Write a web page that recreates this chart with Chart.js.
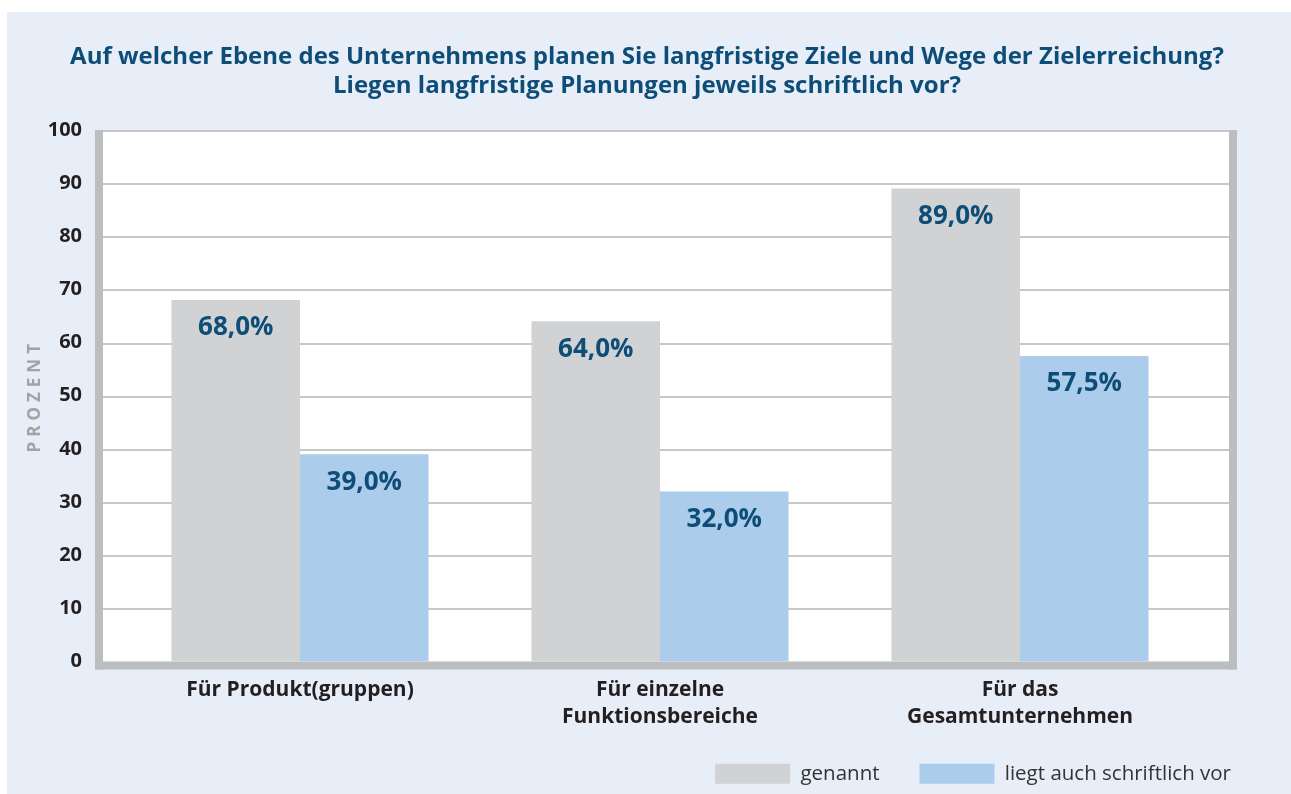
<!DOCTYPE html>
<html>
<head>
<meta charset="utf-8">
<script src="https://cdn.jsdelivr.net/npm/chart.js@4.4.1/dist/chart.umd.min.js"></script>
<style>
    html, body { margin: 0; padding: 0; background: #ffffff; }
    #wrap { position: absolute; left: 0; top: 0; width: 1291px; height: 794px; }
</style>
</head>
<body>
<div id="wrap"><canvas id="chart" width="1291" height="794"></canvas></div>
<script>
// Chart data
const titleLines = [
    'Auf welcher Ebene des Unternehmens planen Sie langfristige Ziele und Wege der Zielerreichung?',
    'Liegen langfristige Planungen jeweils schriftlich vor?'
];
const categories = [
    ['Für Produkt(gruppen)'],
    ['Für einzelne', 'Funktionsbereiche'],
    ['Für das', 'Gesamtunternehmen']
];
const seriesNames = ['genannt', 'liegt auch schriftlich vor'];
const genannt = [68.0, 64.0, 89.0];
const schriftlich = [39.0, 32.0, 57.5];
const yTickValues = [0, 10, 20, 30, 40, 50, 60, 70, 80, 90, 100];
const yAxisTitle = 'PROZENT';

const FONT = "'Open Sans', 'Noto Sans', sans-serif";
const DARK_BLUE = '#0d4d77';
const TEXT = '#231f20';
const FRAME = '#bcbdbf';
const GRID = '#c6c7c9';

// Panel, white plot area, grid lines and the grey frame
const backdrop = {
    id: 'backdrop',
    beforeDraw(chart) {
        const ctx = chart.ctx;
        const ca = chart.chartArea;
        const y = chart.scales.y;
        const left = ca.left - 17;
        const right = ca.right + 29;
        ctx.save();
        ctx.fillStyle = '#ffffff';
        ctx.fillRect(0, 0, chart.width, chart.height);
        ctx.fillStyle = '#e7eef8';
        ctx.fillRect(7, 12, chart.width - 7, chart.height - 12);

        ctx.fillStyle = '#ffffff';
        ctx.fillRect(left, ca.top, right - left, ca.bottom - ca.top);

        // horizontal grid lines
        ctx.strokeStyle = GRID;
        ctx.lineWidth = 2;
        yTickValues.forEach(v => {
            if (v === 0) return;
            const py = Math.round(y.getPixelForValue(v)) + 1;
            ctx.beginPath();
            ctx.moveTo(left, py);
            ctx.lineTo(right, py);
            ctx.stroke();
        });

        // frame: thick left, bottom, right
        ctx.fillStyle = FRAME;
        ctx.fillRect(left - 8, ca.top, 8, ca.bottom - ca.top + 8);
        ctx.fillRect(left - 8, ca.bottom, right - left + 16, 8);
        ctx.fillRect(right, ca.top, 8, ca.bottom - ca.top + 8);
        ctx.restore();

        // letter spaced axis title
        const sy = chart.scales.y;
        if (!sy._spaced) {
            const orig = sy.drawTitle;
            sy.drawTitle = function() {
                this.ctx.save();
                this.ctx.letterSpacing = '5px';
                orig.apply(this, arguments);
                this.ctx.restore();
            };
            sy._spaced = true;
        }
    }
};

// Percent labels inside the bars
const valueLabels = {
    id: 'valueLabels',
    afterDatasetsDraw(chart) {
        const ctx = chart.ctx;
        ctx.save();
        ctx.font = 'bold 26px ' + FONT;
        ctx.fillStyle = DARK_BLUE;
        ctx.textAlign = 'center';
        ctx.textBaseline = 'middle';
        chart.data.datasets.forEach((ds, di) => {
            chart.getDatasetMeta(di).data.forEach((bar, i) => {
                const txt = ds.data[i].toFixed(1).replace('.', ',') + '%';
                ctx.fillText(txt, bar.x, bar.y + 28);
            });
        });
        ctx.restore();
    }
};

new Chart(document.getElementById('chart'), {
    type: 'bar',
    data: {
        labels: categories,
        datasets: [
            {
                label: seriesNames[0],
                data: genannt,
                backgroundColor: '#d1d2d4',
                borderWidth: 0,
                categoryPercentage: 0.714,
                barPercentage: 1.0
            },
            {
                label: seriesNames[1],
                data: schriftlich,
                backgroundColor: '#abcdeb',
                borderWidth: 0,
                categoryPercentage: 0.714,
                barPercentage: 1.0
            }
        ]
    },
    options: {
        responsive: false,
        animation: false,
        devicePixelRatio: 1,
        layout: { padding: { left: 23, right: 20, top: 0, bottom: 0 } },
        plugins: {
            title: {
                display: true,
                text: titleLines,
                color: DARK_BLUE,
                font: { family: FONT, size: 24, weight: 'bold', lineHeight: 29 / 24 },
                padding: { top: 42.5, bottom: 29.5 }
            },
            legend: {
                position: 'bottom',
                align: 'end',
                labels: {
                    boxWidth: 75,
                    boxHeight: 20,
                    padding: 40,
                    color: '#333333',
                    font: { family: FONT, size: 20.5, lineHeight: 20 / 20.5 }
                }
            },
            tooltip: { enabled: false }
        },
        scales: {
            x: {
                type: 'category',
                offset: true,
                grid: { display: false, drawTicks: false },
                border: { display: false },
                ticks: {
                    color: TEXT,
                    padding: 15,
                    maxRotation: 0,
                    font: { family: FONT, size: 21, weight: 'bold', lineHeight: 27 / 21 }
                },
                afterFit(scale) { scale.height = 62; }
            },
            y: {
                min: 0,
                max: 100,
                grid: { display: false, drawTicks: false },
                border: { display: false },
                ticks: {
                    stepSize: 10,
                    color: TEXT,
                    padding: 38,
                    font: { family: FONT, size: 20, weight: 'bold' }
                },
                title: {
                    display: true,
                    text: yAxisTitle,
                    color: '#a3a3a3',
                    padding: { top: 2, bottom: 0 },
                    font: { family: FONT, size: 17, weight: 'bold' }
                },
                afterFit(scale) { scale.width = 97; }
            },
            yRight: {
                type: 'linear',
                position: 'right',
                display: true,
                grid: { display: false, drawTicks: false },
                border: { display: false },
                ticks: { display: false },
                afterFit(scale) { scale.width = 71; }
            }
        }
    },
    plugins: [backdrop, valueLabels]
});
</script>
</body>
</html>
